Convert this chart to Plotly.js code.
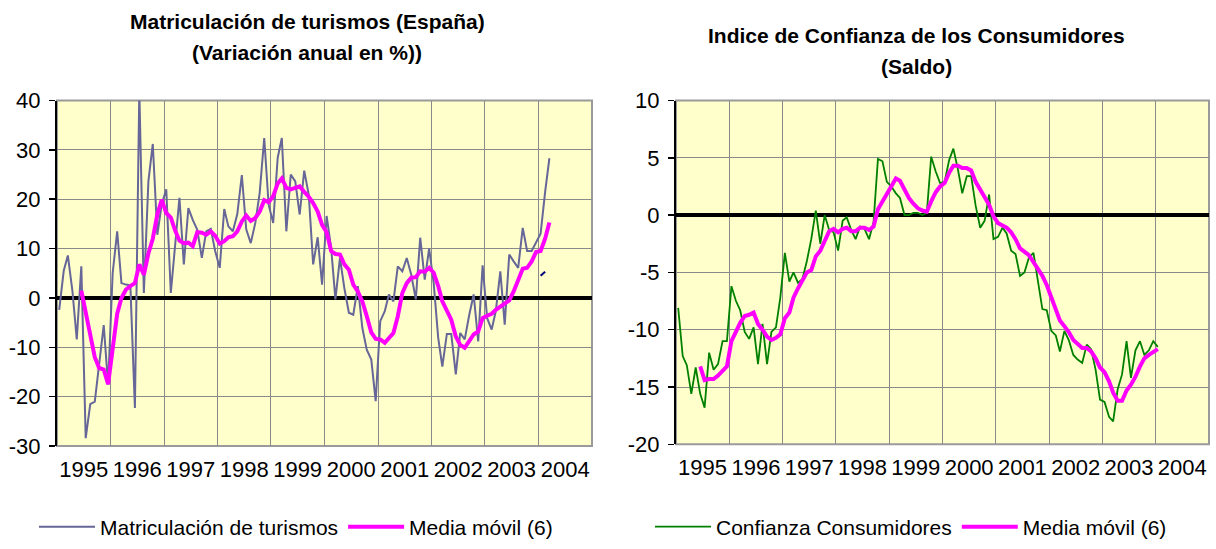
<!DOCTYPE html>
<html>
<head>
<meta charset="utf-8">
<script src="https://cdn.plot.ly/plotly-3.0.1.min.js"></script>
<style>
  html, body { margin: 0; padding: 0; background: #ffffff; }
  #chart { width: 1216px; height: 549px; }
</style>
</head>
<body>
<div id="chart"></div>
<script>
// ---------- DATA (monthly, starting January 1995) ----------
const startYear = 1995;
const yearLabels = ['1995','1996','1997','1998','1999','2000','2001','2002','2003','2004'];
const leftYTicks = [-30, -20, -10, 0, 10, 20, 30, 40];
const leftYLabels = ['-30', '-20', '-10', '0', '10', '20', '30', '40'];
const rightYTicks = [-20, -15, -10, -5, 0, 5, 10];
const rightYLabels = ['-20', '-15', '-10', '-5', '0', '5', '10'];

// Matriculación de turismos (variación anual, %) – Jan 1995 .. Mar 2004
const matriculacion = [
  -2.4, 5.5, 8.6, 1.5, -8.4, 6.4, -28.4, -21.5, -21.0, -13.0,
  -5.5, -17.6, 5, 13.5, 3, 2.7, 2.5, -22.3, 42, 1,
  23.6, 31.2, 12.8, 19, 22, 1, 10.5, 20.3, 6.8, 18.2,
  15.8, 13.8, 8.1, 13.5, 14, 9.5, 6.1, 18, 14.5, 13.5,
  17, 24.9, 13.9, 11.1, 15.2, 21.3, 32.4, 18.9, 15.2, 28.4,
  32.4, 13.5, 25, 23.6, 16.9, 25.8, 20.9, 6.8, 12.3, 2.7,
  16.6, 10.1, -0.3, 8.1, 2, -3, -3.4, 2.4, -6.1, -10.5,
  -12.5, -20.9, -4.7, -2.7, 0.7, -0.7, 6.4, 5.4, 8.1, 4.7,
  -0.3, 12.2, 3.7, 10, 3, -8.1, -13.9, -7.3, -7.3, -15.5,
  -7.1, -8.4, -3.4, 0.7, -8.8, 6.6, -4.1, -6.4, -2.7, 5.4,
  -5.4, 8.8, 7.4, 6.1, 14.2, 9.5, 9.5, 11.1, 13, 21.5, 28.3
];

// Media móvil (6) of the registrations series (first 5 months empty)
const matriculacionMedia = [
  null, null, null, null, null, 1.5, -3, -7, -12, -14.2,
  -14.5, -17.5, -10, -3.2, 0, 1.7, 2.4, 3, 6.8, 4.7,
  9, 12, 16.9, 19.9, 17.2, 16.3, 13.8, 11.6, 11.1, 11.2,
  10.5, 13.3, 13.2, 12.8, 13.5, 12.6, 11, 11.5, 12.3, 12.5,
  13.5, 15.5, 16.7, 15.6, 16.2, 17.5, 19.8, 19.4, 20.6, 23.2,
  24.2, 22.3, 22, 22.4, 22.6, 21.5, 20.5, 19.2, 17.5, 14.8,
  13.3, 9.5, 8.9, 8.8, 6.8, 5.7, 2.7, 1.3, -0.7, -3.7,
  -7, -8.3, -8.4, -9.1, -8.1, -7.1, -3.7, 1, 3, 4.1,
  4.2, 5.4, 5.3, 6.1, 5.1, 2.4, -0.7, -2.7, -4.4, -7.8,
  -9.5, -10.1, -8.8, -7.4, -6.8, -4.1, -3.6, -3.2, -2.4, -1.7,
  -1, -0.5, 1.3, 3.7, 5.9, 6.1, 7.4, 9.3, 9.5, 12, 15.3
];

// small stray dark segment (months 108-109)
const stubStart = 108;
const matriculacionStub = [4.5, 5.3];

// Indice de Confianza de los Consumidores (saldo) – Jan 1995 .. Jan 2004
const confianza = [
  -8.1, -12.3, -13.1, -15.6, -13.3, -15.6, -16.8, -12, -13.5, -13,
  -11, -11, -6.2, -7.5, -8.3, -10.2, -10.8, -9.8, -13, -9.5,
  -13, -10.2, -9.8, -7.2, -3.3, -5.8, -5, -5.9, -5.6, -4,
  -2.1, 0.4, -2.5, 0, -1.3, -1.5, -3.1, -0.5, -0.2, -1.3,
  -2.1, -1, -1.2, -2.1, -0.6, 4.9, 4.7, 2.9, 2.5, 1.9,
  1.5, 0, 0, 0.2, 0.2, 0, 0.2, 5.1, 3.8, 2.8,
  2.9, 4.8, 5.8, 4, 1.9, 3.4, 3.4, 0.8, -1.1, -0.5,
  1.8, -2.1, -1.9, -1.1, -1.6, -3.1, -3.4, -5.3, -5, -3.7,
  -3.3, -5.6, -8.2, -8.3, -10.1, -10.5, -11.9, -10.1, -10.9, -12.2,
  -12.6, -12.9, -11.3, -11.7, -13.5, -16.1, -16.3, -17.6, -18, -15.2,
  -13.9, -11, -14.2, -11.8, -11, -12.2, -11.8, -11, -11.5
];

// Media móvil (6) of the confidence series
const confianzaMedia = [
  null, null, null, null, null, -13.2, -14.4, -14.3, -14.3, -14,
  -13.6, -13.2, -11, -10.2, -9.4, -8.8, -8.7, -8.5, -9.5, -10,
  -10.6, -10.9, -10.7, -10.4, -9, -8.5, -7.2, -6.4, -5.7, -5,
  -4.8, -3.6, -3.1, -2.2, -1.4, -1.2, -1.5, -1.2, -1.1, -1.4,
  -1.4, -1.1, -1.1, -1.3, -1, 0.5, 1.2, 1.8, 2.6, 3.2,
  3.0, 2.2, 1.5, 1.0, 0.6, 0.4, 0.3, 1.2, 2, 2.5,
  2.8, 3.7, 4.3, 4.3, 4.1, 4.1, 3.9, 2.9, 2.2, 1.5,
  0.9, -0.1, -0.7, -0.9, -1.1, -1.5, -2.1, -2.9, -3.2, -3.5,
  -4.1, -4.7, -5.3, -6.1, -7.1, -8.2, -9.2, -9.7, -10.2, -10.9,
  -11.3, -11.6, -11.6, -11.9, -12.5, -13.3, -13.7, -14.5, -15.5, -16.2,
  -16.2, -15.3, -14.8, -14.1, -13.2, -12.5, -12.2, -12, -11.7
];

// ---------- helpers: month categories -> dates ----------
function pad(n) { return (n < 10 ? '0' : '') + n; }
function monthDate(i) {
  const y = startYear + Math.floor(i / 12);
  const m = (i % 12) + 1;
  return y + '-' + pad(m) + '-16';
}
function monthDates(n, offset) {
  const out = [];
  for (let i = 0; i < n; i++) out.push(monthDate(i + (offset || 0)));
  return out;
}
const yearMid = yearLabels.map(y => y + '-07-02');
const yearStarts = yearLabels.slice(1).map(y => y + '-01-01');

const FONT = '"Liberation Sans", Arial, sans-serif';
const GRID = '#8a8a8a';
const W = 1216, H = 549;

const traces = [
  { x: monthDates(matriculacion.length), y: matriculacion, type: 'scatter', mode: 'lines',
    name: 'Matriculación de turismos', line: { color: '#666699', width: 2 },
    xaxis: 'x', yaxis: 'y', legend: 'legend' },
  { x: monthDates(matriculacionMedia.length), y: matriculacionMedia, type: 'scatter', mode: 'lines',
    name: 'Media móvil (6)', line: { color: '#FF00FF', width: 4 },
    xaxis: 'x', yaxis: 'y', legend: 'legend' },
  { x: monthDates(matriculacionStub.length, stubStart), y: matriculacionStub, type: 'scatter', mode: 'lines',
    showlegend: false, line: { color: '#000080', width: 2 }, xaxis: 'x', yaxis: 'y' },
  { x: monthDates(confianza.length), y: confianza, type: 'scatter', mode: 'lines',
    name: 'Confianza Consumidores', line: { color: '#008000', width: 1.8 },
    xaxis: 'x2', yaxis: 'y2', legend: 'legend2' },
  { x: monthDates(confianzaMedia.length), y: confianzaMedia, type: 'scatter', mode: 'lines',
    name: 'Media móvil (6)', line: { color: '#FF00FF', width: 4 },
    xaxis: 'x2', yaxis: 'y2', legend: 'legend2' }
];

function xAxis(d0, d1, anchor) {
  return {
    domain: [d0 / W, d1 / W], anchor: anchor, type: 'date',
    range: ['1995-01-01', '2005-01-01'],
    tickmode: 'array', tickvals: yearMid, ticktext: yearLabels,
    showgrid: false, ticks: '', showline: false, zeroline: false,
    ticklabelstandoff: 8,
    tickfont: { size: 22, color: '#000', family: FONT },
    minor: { tickmode: 'array', tickvals: yearStarts, showgrid: true,
             gridcolor: GRID, gridwidth: 1, ticks: '' },
    fixedrange: true
  };
}
function yAxis(top, bottom, range, vals, labels, anchor) {
  return {
    domain: [(H - bottom) / H, (H - top) / H], anchor: anchor,
    range: range, tickmode: 'array', tickvals: vals, ticktext: labels,
    showgrid: true, gridcolor: GRID, gridwidth: 1,
    zeroline: true, zerolinecolor: '#000', zerolinewidth: 4,
    showline: true, linecolor: '#000', linewidth: 2,
    ticks: 'outside', ticklen: 6, tickcolor: '#000', tickwidth: 1.5,
    ticklabelstandoff: 4,
    tickfont: { size: 22, color: '#000', family: FONT },
    fixedrange: true
  };
}

const layout = {
  width: W, height: H,
  margin: { l: 0, r: 0, t: 0, b: 0 },
  paper_bgcolor: '#ffffff', plot_bgcolor: '#FFFFCC',
  font: { family: FONT, size: 21, color: '#000' },
  showlegend: true,
  xaxis: xAxis(57, 592, 'y'),
  yaxis: yAxis(100.5, 446, [-30, 40], leftYTicks, leftYLabels, 'x'),
  xaxis2: xAxis(676, 1209, 'y2'),
  yaxis2: yAxis(100.5, 444.3, [-20, 10], rightYTicks, rightYLabels, 'x2'),
  legend: { orientation: 'h', x: 296 / W, xanchor: 'center', y: (H - 527) / H, yanchor: 'middle',
            font: { size: 21, family: FONT, color: '#000' }, bgcolor: 'rgba(0,0,0,0)', itemwidth: 56 },
  legend2: { orientation: 'h', x: 911 / W, xanchor: 'center', y: (H - 527) / H, yanchor: 'middle',
             font: { size: 21, family: FONT, color: '#000' }, bgcolor: 'rgba(0,0,0,0)', itemwidth: 56 },
  shapes: [
    { type: 'rect', xref: 'x domain', yref: 'y domain', x0: 0, x1: 1, y0: 0, y1: 1,
      line: { color: '#9a9a9a', width: 2 }, layer: 'below' },
    { type: 'rect', xref: 'x2 domain', yref: 'y2 domain', x0: 0, x1: 1, y0: 0, y1: 1,
      line: { color: '#9a9a9a', width: 2 }, layer: 'below' }
  ],
  annotations: [
    { text: '<b>Matriculación de turismos (España)</b>', xref: 'paper', yref: 'paper',
      x: 307 / W, y: (H - 22) / H, xanchor: 'center', yanchor: 'middle', showarrow: false,
      font: { size: 21, family: FONT, color: '#000' } },
    { text: '<b>(Variación anual en %))</b>', xref: 'paper', yref: 'paper',
      x: 307 / W, y: (H - 52) / H, xanchor: 'center', yanchor: 'middle', showarrow: false,
      font: { size: 21, family: FONT, color: '#000' } },
    { text: '<b>Indice de Confianza de los Consumidores</b>', xref: 'paper', yref: 'paper',
      x: 916 / W, y: (H - 36) / H, xanchor: 'center', yanchor: 'middle', showarrow: false,
      font: { size: 21, family: FONT, color: '#000' } },
    { text: '<b>(Saldo)</b>', xref: 'paper', yref: 'paper',
      x: 916 / W, y: (H - 67) / H, xanchor: 'center', yanchor: 'middle', showarrow: false,
      font: { size: 21, family: FONT, color: '#000' } }
  ]
};

Plotly.newPlot('chart', traces, layout, { staticPlot: true, displayModeBar: false });
</script>
</body>
</html>
